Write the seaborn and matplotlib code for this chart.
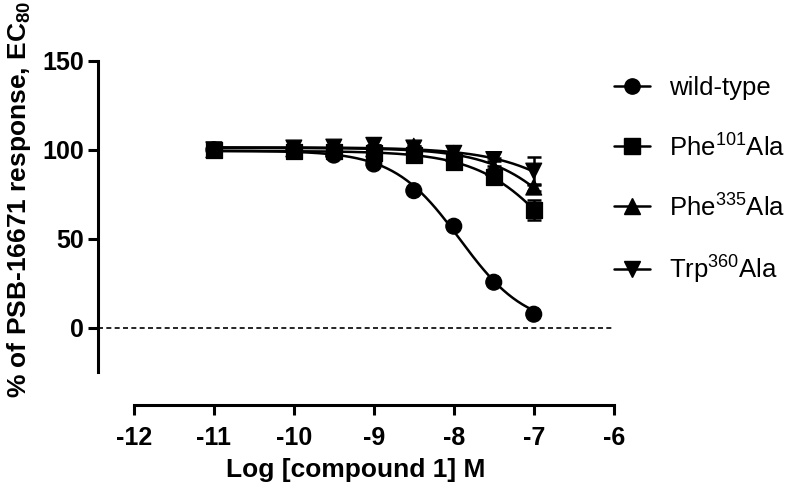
import numpy as np
import pandas as pd
import seaborn as sns
import matplotlib as mpl
import matplotlib.pyplot as plt
from matplotlib.lines import Line2D

sns.set_style('ticks')
plt.rcParams['font.family'] = ['Liberation Sans', 'DejaVu Sans']
plt.rcParams['mathtext.fontset'] = 'custom'
plt.rcParams['mathtext.rm'] = 'Liberation Sans'
plt.rcParams['mathtext.bf'] = 'Liberation Sans:bold'
plt.rcParams['axes.unicode_minus'] = False
for k in ['text.color', 'axes.labelcolor', 'xtick.color', 'ytick.color', 'axes.edgecolor']:
    plt.rcParams[k] = 'black'

# log [compound 1] M
log_conc = [-11, -10, -9.5, -9, -8.5, -8, -7.5, -7]

wild_type = [100, 100, 97, 92, 77, 57, 25.5, 7.5]
phe101 = [100, 99, 99, 98, 97, 93, 84.5, 66]
phe335 = [100, 100.5, 100.5, 100.5, 102, 98, 90, 79]
trp360 = [100, 101, 101.5, 102.5, 101, 98, 94.5, 88]

phe101_err = [0, 0, 0, 0, 0, 0, 1.5, 5.5]
phe335_err = [0, 0, 0, 0, 0, 0, 1, 2]
trp360_err = [0, 0, 0, 0, 0, 0, 1, 8]
wt_err = [0, 0, 0, 0, 0, 0, 0, 0]

labels = ['wild-type', 'Phe$^{101}$Ala', 'Phe$^{335}$Ala', 'Trp$^{360}$Ala']
series = [wild_type, phe101, phe335, trp360]
errors = [wt_err, phe101_err, phe335_err, trp360_err]
markers = ['o', 's', '^', 'v']

rows = []
for lab, ys, es in zip(labels, series, errors):
    for x, y, e in zip(log_conc, ys, es):
        rows.append({'logc': x, 'resp': y, 'err': e, 'group': lab})
df = pd.DataFrame(rows)


def fit_curve(x, y):
    # logistic fit with bottom fixed at 0: grid over logIC50 / hill, top by least squares
    x = np.asarray(x, float)
    y = np.asarray(y, float)
    best = None
    for lic in np.linspace(-9.5, -5.0, 181):
        for h in np.linspace(0.5, 2.0, 61):
            s = 1.0 / (1.0 + 10 ** ((x - lic) * h))
            top = (s @ y) / (s @ s)
            r = np.sum((y - top * s) ** 2)
            if best is None or r < best[0]:
                best = (r, lic, h, top)
    return best[1:]


curve_rows = []
xs = np.linspace(min(log_conc), max(log_conc), 200)
for lab, ys in zip(labels, series):
    lic, h, top = fit_curve(log_conc, ys)
    for xv in xs:
        curve_rows.append({'logc': xv, 'resp': top / (1 + 10 ** ((xv - lic) * h)), 'group': lab})
curves = pd.DataFrame(curve_rows)

fig = plt.figure(figsize=(7.96, 4.95), dpi=100)
ax = fig.add_axes([0.123, 0.2485, 0.771 - 0.123, 0.877 - 0.2485])

sns.lineplot(data=curves, x='logc', y='resp', hue='group', palette=['black'] * 4,
             linewidth=1.8, legend=False, ax=ax, zorder=2)
for lab in labels:
    sub = df[df['group'] == lab]
    ax.errorbar(sub['logc'], sub['resp'], yerr=sub['err'], fmt='none', ecolor='black',
                elinewidth=1.8, capsize=5, capthick=1.8, zorder=3)
sns.scatterplot(data=df, x='logc', y='resp', style='group', markers=dict(zip(labels, markers)),
                color='black', s=130, edgecolor='black', legend=False, ax=ax, zorder=4)

ax.axhline(0, color='black', linestyle=(0, (3, 2)), linewidth=1.2, zorder=1)

ax.set_xlim(-12.45, -6)
ax.set_ylim(-25, 150)
ax.set_xticks(range(-12, -5))
ax.set_yticks([0, 50, 100, 150])
ax.spines['top'].set_visible(False)
ax.spines['right'].set_visible(False)
ax.spines['bottom'].set_position(('outward', 24))
ax.spines['bottom'].set_bounds(-12, -6)
for sp in ['left', 'bottom']:
    ax.spines[sp].set_linewidth(2.2)
ax.tick_params(width=2.2, length=7, labelsize=18, pad=3)
ax.tick_params(axis='x', pad=8)
for t in ax.get_xticklabels() + ax.get_yticklabels():
    t.set_fontweight('bold')

ax.set_xlabel('Log [compound 1] M', fontsize=19, fontweight='bold', labelpad=6)
ax.set_ylabel('% of PSB-16671 response, EC$_{\\mathbf{80}}$', fontsize=19, fontweight='bold')
ax.yaxis.set_label_coords(-0.126, 0.556)

handles = [Line2D([], [], color='black', marker=m, markersize=11, linewidth=1.8) for m in markers]
fig.legend(handles, labels, loc='upper left', bbox_to_anchor=(0.742, 0.893), frameon=False,
           fontsize=18.5, handlelength=1.4, handletextpad=0.76, labelspacing=1.25)

fig.savefig('out.png', dpi=100)
